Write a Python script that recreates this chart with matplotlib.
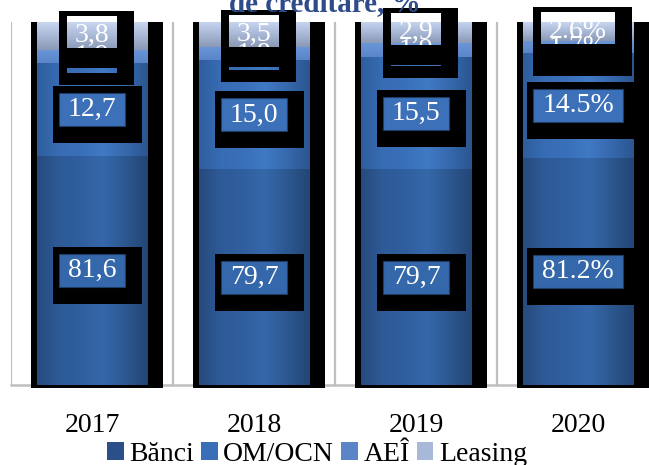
import matplotlib
matplotlib.use('Agg')
import matplotlib.pyplot as plt
import numpy as np
from matplotlib.path import Path
from matplotlib.patches import PathPatch, Rectangle
from matplotlib.colors import LinearSegmentedColormap
import matplotlib.transforms as mtransforms

# ---- data ----
years = ['2017', '2018', '2019', '2020']
banci = [81.6, 79.7, 79.7, 81.2]
om_ocn = [12.7, 15.0, 15.5, 14.5]
aei = [1.9, 1.8, 1.9, 1.7]
leasing = [3.8, 3.5, 2.9, 2.6]
series_names = ['Bănci', 'OM/OCN', 'AEÎ', 'Leasing']
percent_years = ['2020']          # years whose labels use "x.x%"
title_text = 'de creditare, %'

# ---- style ----
colors = ['#2E5C9A', '#3A6EB7', '#5D8BCF', '#A9B9D7']
# gradient stops per series: (direction, colours)
gradients = [
    ('h', ['#274B7E', '#2E5B98', '#305F9F', '#3568AA', '#2C5890', '#244676']),
    ('h', ['#2F5E9E', '#386DB5', '#3A70B9', '#4079C4', '#3769AE', '#2B5690']),
    ('v', ['#5A86C9', '#6A96D8']),
    ('v', ['#8A99B4', '#A8B8D6', '#C9D6F0']),
]
box_fc = ['#3568AA', '#3C70B9']
FONT = 'Liberation Serif'
W, H = 649, 465
grid_c = '#BFBFBF'
YMIN, YMAX = 50, 100

fig = plt.figure(figsize=(W / 100, H / 100), dpi=100)
ax = fig.add_axes([11 / W, (H - 385) / H, 648 / W, 363 / H])
n = len(years)
x = np.arange(n) + 0.5
for s in ax.spines.values():
    s.set_visible(False)
ax.set_yticks([])
ax.set_xticks(x)
ax.set_xticklabels(years, fontsize=20, family=FONT)
ax.tick_params(axis='x', length=0, pad=20)

# category separators and base line
ax.vlines(np.arange(n), YMIN, YMAX, color=grid_c, lw=1.6, zorder=0.5)
ax.axhline(YMIN, color=grid_c, lw=1.8, zorder=0.5, clip_on=False)

bw = 0.68
# black "shadow" behind each bar
ax.bar(x + 0.031, YMAX - (YMIN - 0.4), bottom=YMIN - 0.4, width=0.81, color='black',
       zorder=1, clip_on=False)

series = [banci, om_ocn, aei, leasing]
bottoms = np.zeros(n)
for (direction, stops), vals, c in zip(gradients, series, colors):
    bars = ax.bar(x, vals, bottom=bottoms, width=bw, color=c, zorder=2)
    cmap = LinearSegmentedColormap.from_list('g', stops)
    for b in bars:
        x0, y0 = b.get_x(), max(b.get_y(), YMIN)
        x1, y1 = x0 + b.get_width(), b.get_y() + b.get_height()
        if direction == 'h':
            arr = np.linspace(0, 1, 64)[None, :]
        else:
            arr = np.linspace(0, 1, 64)[:, None]
        ax.imshow(arr, extent=[x0, x1, y0, y1], origin='lower', cmap=cmap,
                  aspect='auto', zorder=2.1, interpolation='bilinear')
    bottoms = bottoms + np.array(vals)

ax.set_xlim(0, n)
ax.set_ylim(YMIN, YMAX)


def fmt(v, yr):
    if yr in percent_years:
        return f'{v:.1f}%'
    return f'{v:.1f}'.replace('.', ',')


# label texts
texts = {k: [] for k in range(4)}
cum = np.zeros(n)
zt = {0: 10, 1: 10, 2: 5, 3: 7}
for k, vals in enumerate(series):
    for i in range(n):
        lo = max(cum[i], YMIN)
        hi = cum[i] + vals[i]
        t = ax.text(x[i], (lo + hi) / 2, fmt(vals[i], years[i]), ha='center',
                    va='center', color='white', fontsize=20, family=FONT,
                    zorder=zt[k], clip_on=False)
        texts[k].append(t)
    cum = cum + np.array(vals)

# title (only its last line visible at top)
fig.text(0.5, 1 - 11 / H, title_text, ha='center', va='baseline', fontsize=21,
         fontweight='bold', color='#2F4C8A', family=FONT)

# legend
handles = [Rectangle((0, 0), 1, 1, fc=c, ec='none') for c in ['#2B5089', '#3A6FB8', '#5B85C6', '#A8B8D8']]
fig.legend(handles, series_names, loc='center', bbox_to_anchor=(317 / W, 1 - 454 / H),
           ncol=4, frameon=False, prop={'family': FONT, 'size': 20},
           handlelength=0.6, handleheight=0.6, handletextpad=0.2,
           columnspacing=0.25, borderaxespad=0, borderpad=0)

# ---- boxes around labels (pixel geometry from rendered text extents) ----
fig.canvas.draw()
rend = fig.canvas.get_renderer()
ident = mtransforms.IdentityTransform()


def rect_path(x0, y0, x1, y1, ccw=True):
    if ccw:
        v = [(x0, y0), (x1, y0), (x1, y1), (x0, y1), (x0, y0)]
    else:
        v = [(x0, y0), (x0, y1), (x1, y1), (x1, y0), (x0, y0)]
    return Path(v, [Path.MOVETO, Path.LINETO, Path.LINETO, Path.LINETO, Path.CLOSEPOLY])


def add_path(p, z, fc='black'):
    ax.add_patch(PathPatch(p, transform=ident, fc=fc, ec='none', zorder=z, clip_on=False))


for k in range(4):
    for i, t in enumerate(texts[k]):
        bb = t.get_window_extent(rend)
        if k in (0, 1):
            ix0, ix1 = bb.x0 - 9, bb.x1 + 9
            iy0, iy1 = bb.y0 - 4, bb.y1 + 4
            add_path(rect_path(ix0 - 6, iy0 - 17, ix1 + 17, iy1 + 7), 8)
            ax.add_patch(Rectangle((ix0, iy0), ix1 - ix0, iy1 - iy0, transform=ident,
                                   fc=box_fc[k], ec='#1E3D66', lw=0.8, zorder=9,
                                   clip_on=False))
        elif k == 3:
            wx0, wx1 = bb.x0 - 8, bb.x1 + 8
            wy0, wy1 = bb.y0, bb.y1 + 7
            outer = rect_path(wx0 - 8, wy0 - 20, wx1 + 17, wy1 + 5, True)
            inner = rect_path(wx0, wy0, wx1, wy1, False)
            add_path(Path.make_compound_path(outer, inner), 6)
        else:
            wx0, wx1 = bb.x0 - 8, bb.x1 + 8
            top = (bb.y0 + bb.y1) / 2
            wy0 = bb.y0 - 4
            outer = rect_path(wx0 - 8, wy0 - 12, wx1 + 17, top, True)
            inner = rect_path(wx0, wy0, wx1, top + 1, False)
            add_path(Path.make_compound_path(outer, inner), 4)

fig.savefig('out.png', dpi=100)
